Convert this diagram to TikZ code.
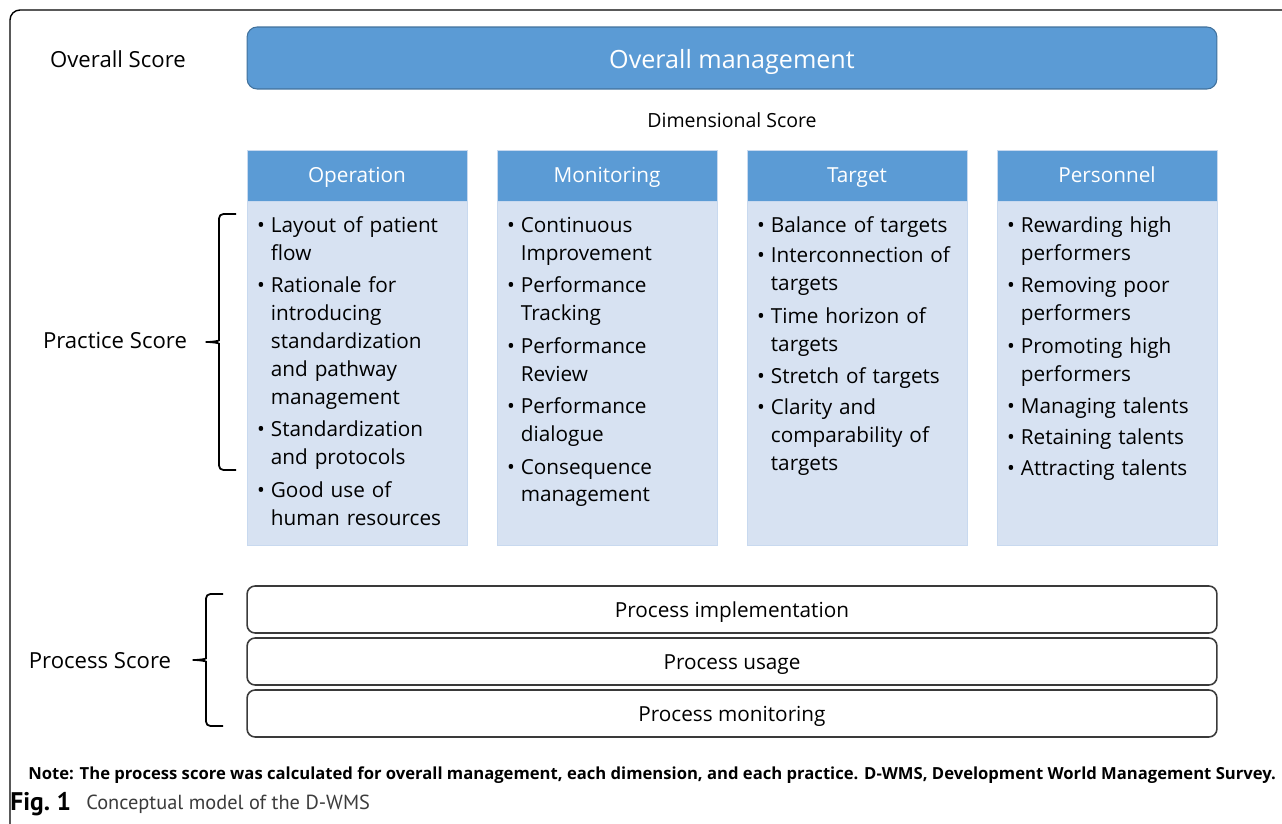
\documentclass[tikz,border=0pt]{standalone}
\usepackage{fontspec}
\setmainfont{Open Sans}
\newfontfamily\capfont{PT Sans}
\usetikzlibrary{positioning}

\definecolor{hdblue}{HTML}{5B9BD5}
\definecolor{hdedge}{HTML}{41719C}
\definecolor{bodyblue}{HTML}{D7E2F2}
\definecolor{bodyedge}{HTML}{C8D9EF}
\definecolor{boxedge}{HTML}{3A3A3A}
\definecolor{capgray}{HTML}{3C3C3C}

% bullet line, wrapped lines hang under the text
\newcommand{\bitem}[1]{\noindent\makebox[7.9pt][l]{\textbullet}\parbox[t]{112pt}{\strut#1\strut}\par}

% curly bracket: #1 upper end, #2 half height (px)
\newcommand{\scorebrace}[2]{%
  \draw[bracepen] (#1) -- ++(-17,0) -- ++(0,#2-6)
    .. controls +(0,5) and +(8,0) .. ++(-16,6)
    .. controls +(8,0) and +(0,-5) .. ++(16,6)
    -- ++(0,#2-6) -- ++(17,0);}

\tikzset{
  topbox/.style={fill=hdblue, draw=hdedge, line width=0.6pt, rounded corners=0.2cm,
    minimum width=19.4cm, minimum height=1.24cm, inner sep=0pt, text=white,
    text height=15pt, text depth=3.6pt, font=\fontsize{14.3}{17}\selectfont},
  colhead/.style={fill=hdblue, draw=bodyedge, line width=0.4pt, minimum width=4.4cm,
    minimum height=1.02cm, inner sep=0pt, text=white, text height=10.4pt, text depth=2.2pt,
    font=\fontsize{11.8}{14}\selectfont},
  colbody/.style={fill=bodyblue, draw=bodyedge, line width=0.4pt, minimum width=4.4cm,
    minimum height=6.88cm, inner sep=0pt},
  itemlist/.style={anchor=north west, inner sep=0pt, text width=122pt, align=left,
    font=\fontsize{11.8}{15.9}\selectfont\setlength{\parskip}{1.6pt}},
  procbox/.style={draw=boxedge, line width=0.9pt, rounded corners=0.16cm,
    minimum width=19.4cm, minimum height=0.94cm, inner sep=0pt,
    text height=12pt, text depth=2.4pt},
  bracepen/.style={line width=1pt, rounded corners=2.5pt},
  score/.style={inner sep=0pt, font=\fontsize{12.6}{15}\selectfont}
}

\begin{document}
\begin{tikzpicture}[x=0.02cm, y=-0.02cm, font=\fontsize{11.8}{15.9}\selectfont]
\useasboundingbox (0,0) rectangle (1282,824);

% outer frame, open to the right and bottom
\begin{scope}
  \clip (0,0) rectangle (1282,824);
  \draw[line width=0.8pt, rounded corners=0.2cm] (1300,10) -- (10,10) -- (10,834) -- (40,834);
\end{scope}

% overall level
\node[score] (overallScore) at (118,59) {Overall Score};
\node[topbox] (overall) at (732,58) {Overall management};
\node[inner sep=0pt, font=\fontsize{11.1}{13}\selectfont] (dimScore) at (732,120) {Dimensional Score};

% dimensions
\foreach \name/\x/\ttl in {op/357/Operation, mon/607/Monitoring, tgt/857/Target, per/1107/Personnel}
{
  \node[colhead] (\name Head) at (\x,175.5) {\ttl};
  \node[colbody, below=0pt of \name Head] (\name Body) {};
}

% practices
\node[itemlist] (opList) at ([xshift=0.2cm, yshift=-0.22cm]opBody.north west) {%
  \bitem{Layout of patient\\flow}
  \bitem{Rationale for\\introducing\\standardization\\and pathway\\management}
  \bitem{Standardization\\and protocols}
  \bitem{Good use of\\human resources}};
\node[itemlist] (monList) at ([xshift=0.2cm, yshift=-0.22cm]monBody.north west) {%
  \bitem{Continuous\\Improvement}
  \bitem{Performance\\Tracking}
  \bitem{Performance\\Review}
  \bitem{Performance\\dialogue}
  \bitem{Consequence\\management}};
\node[itemlist] (tgtList) at ([xshift=0.2cm, yshift=-0.22cm]tgtBody.north west) {%
  \bitem{Balance of targets}
  \bitem{Interconnection of\\targets}
  \bitem{Time horizon of\\targets}
  \bitem{Stretch of targets}
  \bitem{Clarity and\\comparability of\\targets}};
\node[itemlist] (perList) at ([xshift=0.2cm, yshift=-0.22cm]perBody.north west) {%
  \bitem{Rewarding high\\performers}
  \bitem{Removing poor\\performers}
  \bitem{Promoting high\\performers}
  \bitem{Managing talents}
  \bitem{Retaining talents}
  \bitem{Attracting talents}};

\coordinate (prTop) at (236,214);
\scorebrace{prTop}{128}
\node[score] (practiceScore) at (115,340) {Practice Score};

% process level
\foreach \name/\y/\ttl in {impl/609.5/Process implementation, usage/661.5/Process usage, monit/713.5/Process monitoring}
  \node[procbox] (\name) at (732,\y) {\ttl};

\coordinate (psTop) at (223,594);
\scorebrace{psTop}{66}
\node[score] (processScore) at (100,661) {Process Score};

% note and caption
\node[anchor=west, inner sep=0pt, font=\fontsize{9.47}{12}\selectfont\bfseries] (note) at (28,775)
  {Note: The process score was calculated for overall management, each dimension, and each practice. D-WMS, Development World Management Survey.};
\node[anchor=west, inner sep=0pt, font=\capfont\fontsize{14.5}{16}\selectfont\bfseries] (figNum) at (10,804) {Fig.~1};
\node[anchor=west, inner sep=0pt, text=capgray, font=\capfont\fontsize{11.6}{14}\selectfont] (caption) at (86,804)
  {Conceptual model of the D-WMS};
\end{tikzpicture}
\end{document}
